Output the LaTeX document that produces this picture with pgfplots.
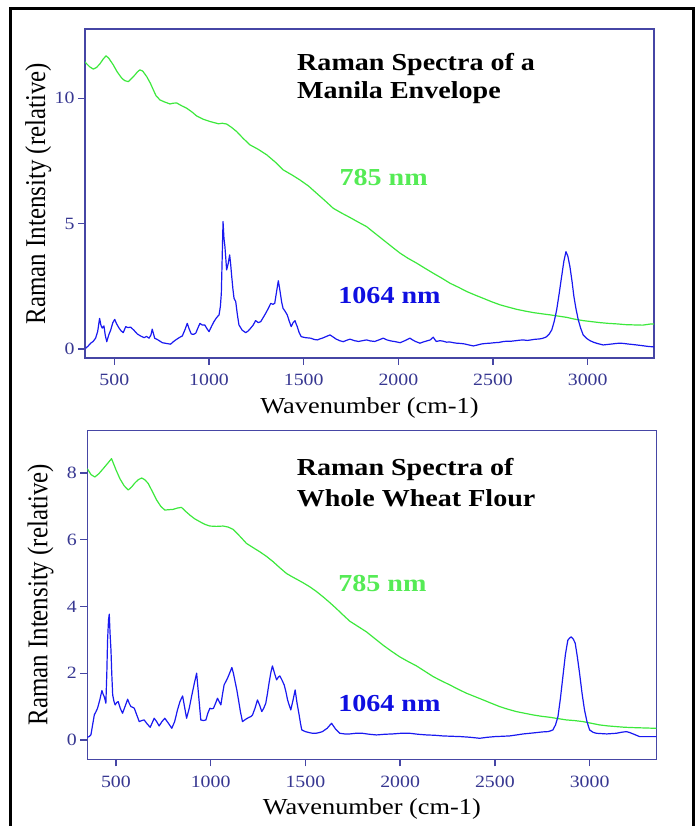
\documentclass[border=0pt]{standalone}
\usepackage{fontspec}
\setmainfont{Liberation Serif}[FakeStretch=1.15]
\newfontfamily\plainserif{Liberation Serif}
\usepackage{graphicx}
\usepackage{pgfplots}
\pgfplotsset{compat=1.18}
\definecolor{grn}{RGB}{60,232,60}
\definecolor{grntxt}{RGB}{85,235,85}
\definecolor{blu}{RGB}{25,25,240}
\definecolor{blutxt}{RGB}{15,15,225}
\definecolor{axblue}{RGB}{70,70,165}
\definecolor{tickblue}{RGB}{55,55,145}

\pgfplotsset{
  ramanaxis/.style={
    scale only axis,
    anchor=south west,
    width=569bp, height=329bp,
    axis line style={draw=axblue, line width=1.5bp},
    tick style={draw=axblue, line width=1.3bp},
    tick align=outside,
    tick pos=left,
    major tick length=7bp,
    xtick={500,1000,1500,2000,2500,3000},
    /pgf/number format/assume math mode=true,
    /pgf/number format/1000 sep={},
    ticklabel style={text=tickblue, font=\fontsize{17.3}{18}\selectfont},
    xticklabel style={anchor=base, yshift=-21bp},
    xlabel={Wavenumber (cm-1)},
    ylabel={\scalebox{1}[1.15]{Raman Intensity (relative)}},
    xlabel style={at={(axis description cs:0.5,-0.1672)}, anchor=base, font=\fontsize{23}{26}\selectfont, text=black},
    ylabel style={at={(axis description cs:-0.0703,0.5)}, anchor=base, font=\plainserif\fontsize{25}{28}\selectfont, text=black},
    every axis plot/.append style={line width=1.2bp, line join=round},
  }
}

\begin{document}
\begin{tikzpicture}[x=1bp,y=1bp]
\useasboundingbox (0,0) rectangle (700,826);
\draw[line width=3bp] (10,0) -- (10,817.5) -- (693,817.5) -- (693,0);

% ---------------- top panel: Manila envelope ----------------
\begin{axis}[ramanaxis, at={(85bp,468bp)},
  xmin=345, xmax=3350, ymin=-0.36, ymax=12.76,
  ytick={0,5,10}]
\addplot[grn] coordinates {
(345,11.45)(350,11.40)(370,11.25)(389,11.16)(405,11.22)(424,11.37)(440,11.55)(456,11.69)(470,11.60)(494,11.33)(515,11.05)(539,10.80)(555,10.70)(574,10.66)(590,10.78)(609,10.93)(622,11.05)(635,11.13)(650,11.08)(671,10.86)(690,10.60)(706,10.33)(720,10.10)(741,9.93)(765,9.85)(794,9.77)(810,9.80)(829,9.81)(855,9.70)(882,9.60)(910,9.45)(935,9.29)(970,9.16)(1005,9.07)(1050,8.98)(1070,9.00)(1093,8.97)(1120,8.83)(1146,8.67)(1180,8.40)(1216,8.14)(1260,7.96)(1305,7.74)(1350,7.45)(1392,7.14)(1440,6.93)(1480,6.74)(1525,6.50)(1568,6.21)(1610,5.93)(1656,5.61)(1700,5.42)(1745,5.24)(1790,5.05)(1832,4.88)(1875,4.62)(1920,4.35)(1965,4.08)(2009,3.82)(2050,3.62)(2097,3.42)(2140,3.22)(2184,3.02)(2230,2.82)(2273,2.62)(2320,2.45)(2361,2.29)(2405,2.15)(2448,2.02)(2490,1.89)(2537,1.76)(2580,1.67)(2625,1.58)(2670,1.51)(2713,1.45)(2760,1.40)(2801,1.36)(2845,1.31)(2889,1.26)(2930,1.19)(2976,1.13)(3020,1.09)(3065,1.05)(3110,1.02)(3153,1.00)(3200,0.97)(3241,0.96)(3290,0.95)(3337,1.00)(3350,0.99)
};
\addplot[blu] coordinates {
(349,0.03)(362,0.12)(375,0.23)(388,0.30)(401,0.43)(412,0.70)(422,1.22)(429,0.95)(436,0.83)(445,0.92)(452,0.55)(460,0.29)(470,0.55)(481,0.76)(492,1.05)(502,1.18)(512,1.00)(525,0.83)(536,0.72)(547,0.65)(560,0.89)(572,0.85)(586,0.87)(603,0.75)(621,0.60)(638,0.52)(657,0.45)(670,0.50)(683,0.43)(693,0.55)(700,0.79)(707,0.60)(713,0.43)(733,0.35)(753,0.25)(775,0.22)(797,0.19)(810,0.28)(824,0.36)(842,0.45)(859,0.52)(872,0.75)(885,1.02)(895,0.80)(906,0.60)(918,0.58)(930,0.63)(942,0.85)(952,1.02)(965,0.95)(977,0.96)(990,0.80)(1000,0.69)(1013,0.90)(1026,1.09)(1040,1.25)(1053,1.36)(1060,1.70)(1065,2.22)(1070,3.80)(1074,5.08)(1079,4.40)(1084,4.08)(1093,3.15)(1101,3.40)(1109,3.75)(1114,3.40)(1120,2.88)(1126,2.40)(1132,2.02)(1141,1.89)(1150,1.35)(1158,0.96)(1175,0.75)(1194,0.65)(1207,0.72)(1220,0.83)(1233,0.95)(1246,1.13)(1260,1.05)(1273,1.09)(1286,1.25)(1299,1.42)(1312,1.60)(1326,1.82)(1337,1.78)(1347,1.82)(1357,2.30)(1366,2.72)(1372,2.45)(1378,2.15)(1384,1.85)(1391,1.62)(1402,1.50)(1413,1.36)(1424,1.10)(1434,0.89)(1444,1.05)(1454,1.13)(1460,1.00)(1466,0.89)(1476,0.65)(1487,0.49)(1510,0.45)(1537,0.43)(1555,0.38)(1572,0.36)(1585,0.40)(1598,0.43)(1620,0.50)(1639,0.56)(1655,0.48)(1670,0.40)(1690,0.33)(1709,0.29)(1728,0.35)(1745,0.39)(1768,0.33)(1790,0.30)(1810,0.33)(1832,0.36)(1852,0.32)(1875,0.30)(1897,0.36)(1920,0.43)(1940,0.36)(1960,0.32)(1985,0.29)(2009,0.25)(2025,0.30)(2040,0.35)(2061,0.43)(2075,0.36)(2090,0.30)(2114,0.23)(2132,0.28)(2150,0.32)(2168,0.36)(2184,0.47)(2192,0.38)(2200,0.30)(2220,0.33)(2237,0.31)(2255,0.27)(2270,0.28)(2290,0.25)(2308,0.23)(2330,0.22)(2350,0.20)(2372,0.16)(2396,0.12)(2418,0.16)(2440,0.20)(2462,0.22)(2484,0.23)(2508,0.25)(2530,0.26)(2550,0.29)(2572,0.31)(2597,0.31)(2620,0.33)(2640,0.35)(2660,0.36)(2680,0.34)(2700,0.36)(2715,0.38)(2730,0.39)(2745,0.40)(2760,0.42)(2772,0.45)(2783,0.49)(2797,0.60)(2810,0.76)(2823,1.10)(2836,1.56)(2849,2.20)(2862,2.88)(2874,3.50)(2885,3.88)(2895,3.70)(2906,3.28)(2917,2.70)(2927,2.09)(2938,1.60)(2950,1.16)(2963,0.82)(2976,0.56)(2994,0.42)(3012,0.33)(3030,0.27)(3050,0.22)(3065,0.19)(3082,0.16)(3105,0.18)(3130,0.20)(3150,0.22)(3170,0.23)(3190,0.22)(3210,0.20)(3235,0.18)(3258,0.16)(3280,0.14)(3300,0.12)(3320,0.10)(3337,0.09)(3350,0.08)
};
\node[anchor=base west, inner sep=0, font=\fontsize{24.5}{28}\selectfont\bfseries] at (rel axis cs:0.3726,0.8723) {Raman Spectra of a};
\node[anchor=base west, inner sep=0, font=\fontsize{24.5}{28}\selectfont\bfseries] at (rel axis cs:0.3726,0.7872) {Manila Envelope};
\node[anchor=base west, inner sep=0, text=grntxt, font=\fontsize{24.5}{28}\selectfont\bfseries] at (rel axis cs:0.447,0.5237) {785 nm};
\node[anchor=base west, inner sep=0, text=blutxt, font=\fontsize{24.5}{28}\selectfont\bfseries] at (rel axis cs:0.445,0.167) {1064 nm};
\end{axis}

% ---------------- bottom panel: whole wheat flour ----------------
\begin{axis}[ramanaxis, at={(87.3bp,66.7bp)},
  xmin=349, xmax=3352, ymin=-0.58, ymax=9.28,
  ytick={0,2,4,6,8}]
\addplot[grn] coordinates {
(349,8.13)(369,7.95)(389,7.88)(410,7.98)(433,8.13)(455,8.28)(477,8.43)(500,8.10)(521,7.83)(543,7.62)(565,7.49)(583,7.58)(600,7.70)(618,7.80)(636,7.85)(652,7.80)(670,7.69)(692,7.45)(715,7.19)(737,7.00)(758,6.89)(780,6.90)(802,6.91)(825,6.95)(846,6.97)(868,6.85)(890,6.74)(915,6.63)(943,6.54)(970,6.46)(996,6.41)(1030,6.40)(1066,6.41)(1092,6.38)(1119,6.31)(1155,6.10)(1189,5.89)(1225,5.76)(1259,5.64)(1295,5.50)(1330,5.34)(1365,5.16)(1400,4.99)(1427,4.90)(1453,4.82)(1488,4.71)(1523,4.59)(1558,4.45)(1593,4.29)(1628,4.12)(1663,3.94)(1698,3.75)(1734,3.56)(1778,3.40)(1822,3.24)(1866,3.04)(1910,2.84)(1954,2.66)(1998,2.49)(2042,2.35)(2086,2.22)(2130,2.06)(2174,1.90)(2218,1.77)(2262,1.65)(2306,1.52)(2350,1.40)(2394,1.30)(2438,1.20)(2481,1.10)(2525,1.00)(2569,0.92)(2613,0.85)(2657,0.80)(2701,0.75)(2745,0.71)(2789,0.68)(2833,0.64)(2877,0.60)(2921,0.58)(2965,0.55)(3009,0.50)(3053,0.45)(3097,0.42)(3141,0.40)(3185,0.38)(3229,0.37)(3285,0.36)(3343,0.35)(3352,0.35)
};
\addplot[blu] coordinates {
(349,0.08)(358,0.10)(368,0.15)(377,0.45)(386,0.75)(395,0.85)(403,0.95)(415,1.20)(426,1.48)(432,1.38)(438,1.30)(443,1.20)(447,1.10)(452,2.00)(456,2.99)(461,3.60)(465,3.77)(469,3.20)(474,2.69)(478,2.00)(483,1.35)(490,1.15)(496,1.05)(504,1.12)(512,1.15)(523,0.95)(535,0.80)(548,1.00)(562,1.22)(570,1.10)(579,1.00)(588,0.98)(597,0.95)(610,0.75)(623,0.55)(636,0.58)(649,0.60)(665,0.48)(681,0.38)(692,0.52)(702,0.65)(715,0.55)(728,0.42)(743,0.55)(758,0.65)(777,0.50)(795,0.35)(810,0.55)(825,0.90)(838,1.15)(852,1.32)(862,1.00)(873,0.65)(887,0.95)(901,1.35)(914,1.70)(926,2.00)(937,1.30)(948,0.60)(962,0.58)(975,0.60)(985,0.80)(996,0.95)(1005,0.93)(1015,0.95)(1026,1.10)(1036,1.25)(1045,1.15)(1054,1.05)(1062,1.35)(1071,1.65)(1080,1.75)(1089,1.85)(1100,2.00)(1112,2.17)(1120,2.00)(1129,1.75)(1138,1.50)(1147,1.20)(1157,0.85)(1168,0.55)(1185,0.62)(1203,0.68)(1212,0.70)(1221,0.75)(1234,0.95)(1247,1.20)(1258,1.05)(1270,0.85)(1280,0.95)(1291,1.10)(1300,1.40)(1308,1.70)(1317,2.00)(1326,2.22)(1337,2.00)(1348,1.80)(1357,1.88)(1365,1.92)(1376,1.80)(1388,1.65)(1397,1.45)(1406,1.20)(1414,1.05)(1423,0.90)(1435,1.20)(1446,1.50)(1456,1.10)(1467,0.75)(1474,0.50)(1481,0.30)(1500,0.25)(1520,0.22)(1537,0.20)(1555,0.20)(1573,0.22)(1590,0.25)(1615,0.35)(1638,0.50)(1660,0.32)(1681,0.20)(1708,0.18)(1734,0.18)(1767,0.20)(1800,0.20)(1838,0.17)(1875,0.15)(1918,0.17)(1960,0.18)(2005,0.20)(2051,0.20)(2095,0.17)(2140,0.15)(2183,0.14)(2226,0.12)(2273,0.11)(2320,0.10)(2370,0.08)(2420,0.05)(2460,0.08)(2500,0.10)(2540,0.11)(2578,0.12)(2614,0.15)(2650,0.18)(2685,0.20)(2719,0.22)(2750,0.24)(2780,0.25)(2793,0.27)(2806,0.30)(2820,0.45)(2833,0.70)(2846,1.25)(2859,1.90)(2872,2.55)(2885,2.99)(2894,3.05)(2903,3.09)(2914,3.02)(2924,2.90)(2935,2.50)(2947,2.00)(2960,1.40)(2973,0.90)(2986,0.55)(3000,0.30)(3018,0.23)(3035,0.20)(3062,0.19)(3090,0.18)(3115,0.19)(3141,0.20)(3168,0.23)(3194,0.25)(3212,0.22)(3230,0.18)(3247,0.14)(3264,0.10)(3300,0.10)(3343,0.10)(3352,0.10)
};
\node[anchor=base west, inner sep=0, font=\fontsize{24.5}{28}\selectfont\bfseries] at (rel axis cs:0.3678,0.8633) {Raman Spectra of};
\node[anchor=base west, inner sep=0, font=\fontsize{24.5}{28}\selectfont\bfseries] at (rel axis cs:0.3678,0.7692) {Whole Wheat Flour};
\node[anchor=base west, inner sep=0, text=grntxt, font=\fontsize{24.5}{28}\selectfont\bfseries] at (rel axis cs:0.4408,0.509) {785 nm};
\node[anchor=base west, inner sep=0, text=blutxt, font=\fontsize{24.5}{28}\selectfont\bfseries] at (rel axis cs:0.4408,0.1445) {1064 nm};
\end{axis}
\end{tikzpicture}
\end{document}
